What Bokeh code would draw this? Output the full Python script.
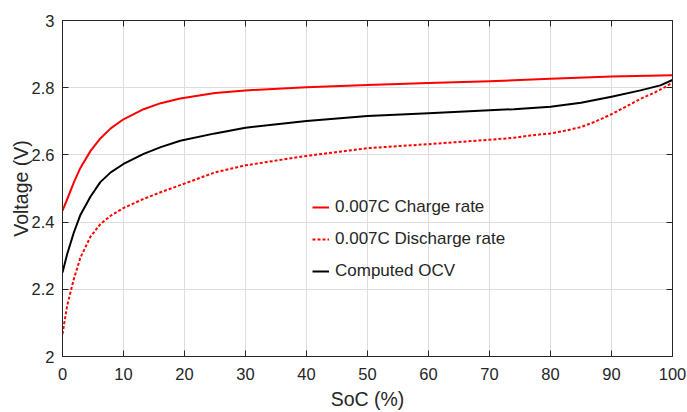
from bokeh.plotting import figure
from bokeh.models import Range1d, LinearAxis, Legend, LegendItem, FixedTicker
from bokeh.embed import file_html
from bokeh.resources import INLINE

# Charge curve (0.007C)
charge_soc = [0, 0.77, 1.86, 2.95, 4.6, 6.2, 7.9, 10, 13.3, 16.1, 19.3, 25, 30, 40, 50, 60, 70, 80, 90, 100]
charge_v = [2.434, 2.468, 2.518, 2.562, 2.612, 2.649, 2.679, 2.706, 2.736, 2.754, 2.768,
            2.784, 2.792, 2.801, 2.808, 2.814, 2.819, 2.827, 2.833, 2.837]

# Discharge curve (0.007C)
dis_soc = [0, 0.77, 1.86, 2.95, 4.6, 6.2, 7.9, 10, 13.3, 16.1, 19.3, 25, 30, 40, 50, 60, 70, 74, 76.7,
           80, 82.7, 85, 87.2, 90, 92.6, 94.75, 97, 98.6, 100]
dis_v = [2.067, 2.152, 2.231, 2.295, 2.357, 2.394, 2.419, 2.442, 2.469, 2.489, 2.510, 2.548, 2.569,
         2.597, 2.620, 2.632, 2.645, 2.651, 2.658, 2.664, 2.673, 2.683, 2.698, 2.721, 2.746, 2.767,
         2.785, 2.800, 2.815]

# Computed OCV
ocv_soc = [0, 0.77, 1.86, 2.95, 4.6, 6.2, 7.9, 10, 13.3, 16.1, 19.3, 25, 30, 40, 50, 60, 70, 74,
           80, 85, 90, 94.75, 98, 100]
ocv_v = [2.25, 2.305, 2.369, 2.422, 2.476, 2.519, 2.548, 2.573, 2.603, 2.623, 2.642, 2.664, 2.681,
         2.701, 2.716, 2.724, 2.733, 2.736, 2.743, 2.755, 2.773, 2.792, 2.807, 2.823]

x_ticks = [0, 10, 20, 30, 40, 50, 60, 70, 80, 90, 100]
y_ticks = [2, 2.2, 2.4, 2.6, 2.8, 3]
y_labels = {2: "2", 2.2: "2.2", 2.4: "2.4", 2.6: "2.6", 2.8: "2.8", 3: "3"}

FONT = "Liberation Sans"
AX = "#262626"

p = figure(width=687, height=412, output_backend="svg", toolbar_location=None,
           x_range=Range1d(0, 100), y_range=Range1d(2, 3),
           min_border_left=62, min_border_right=15, min_border_top=20, min_border_bottom=54)
p.outline_line_color = None

r1 = p.line(charge_soc, charge_v, line_color="#ff0000", line_width=2, line_join="round")
r2 = p.line(dis_soc, dis_v, line_color="#ff0000", line_width=2, line_dash="3 2", line_join="round")
r3 = p.line(ocv_soc, ocv_v, line_color="#000000", line_width=2, line_join="round")

for ax in (p.xaxis[0], p.yaxis[0]):
    ax.axis_line_color = AX
    ax.major_tick_line_color = AX
    ax.major_tick_in = 6
    ax.major_tick_out = 0
    ax.minor_tick_line_color = None
    ax.major_label_text_font = FONT
    ax.major_label_text_font_size = "16.5px"
    ax.major_label_text_color = AX
    ax.axis_label_text_font = FONT
    ax.axis_label_text_font_size = "19.5px"
    ax.axis_label_text_font_style = "normal"
    ax.axis_label_text_color = AX

p.xaxis[0].ticker = FixedTicker(ticks=x_ticks)
p.yaxis[0].ticker = FixedTicker(ticks=y_ticks)
p.yaxis[0].major_label_overrides = y_labels
p.xaxis.axis_label = "SoC (%)"
p.yaxis.axis_label = "Voltage (V)"
p.xaxis.major_label_standoff = 11
p.yaxis.major_label_standoff = 8
p.xaxis.axis_label_standoff = 5
p.yaxis.axis_label_standoff = -3

top = LinearAxis(ticker=FixedTicker(ticks=x_ticks), major_label_text_font_size="0px",
                 major_label_overrides={t: "" for t in x_ticks},
                 axis_line_color=AX, major_tick_line_color=AX, major_tick_in=6, major_tick_out=0,
                 minor_tick_line_color=None, major_label_standoff=0)
right = LinearAxis(ticker=FixedTicker(ticks=y_ticks), major_label_text_font_size="0px",
                   major_label_overrides={t: "" for t in y_ticks},
                   axis_line_color=AX, major_tick_line_color=AX, major_tick_in=6, major_tick_out=0,
                   minor_tick_line_color=None, major_label_standoff=0)
p.add_layout(top, "above")
p.add_layout(right, "right")

p.xgrid.ticker = FixedTicker(ticks=x_ticks)
p.ygrid.ticker = FixedTicker(ticks=y_ticks)
p.grid.grid_line_color = "#dedede"
p.grid.grid_line_width = 1

legend = Legend(items=[
    LegendItem(label="0.007C Charge rate", renderers=[r1]),
    LegendItem(label="0.007C Discharge rate", renderers=[r2]),
    LegendItem(label="Computed OCV", renderers=[r3]),
], location=(250, 75), padding=0, margin=0, spacing=12,
   glyph_width=17, glyph_height=20, label_height=20, label_standoff=6,
   label_text_font=FONT, label_text_font_size="17px", label_text_color=AX,
   border_line_color=None, background_fill_alpha=0)
p.add_layout(legend, "center")

open("out.html", "w").write(file_html(p, INLINE))
